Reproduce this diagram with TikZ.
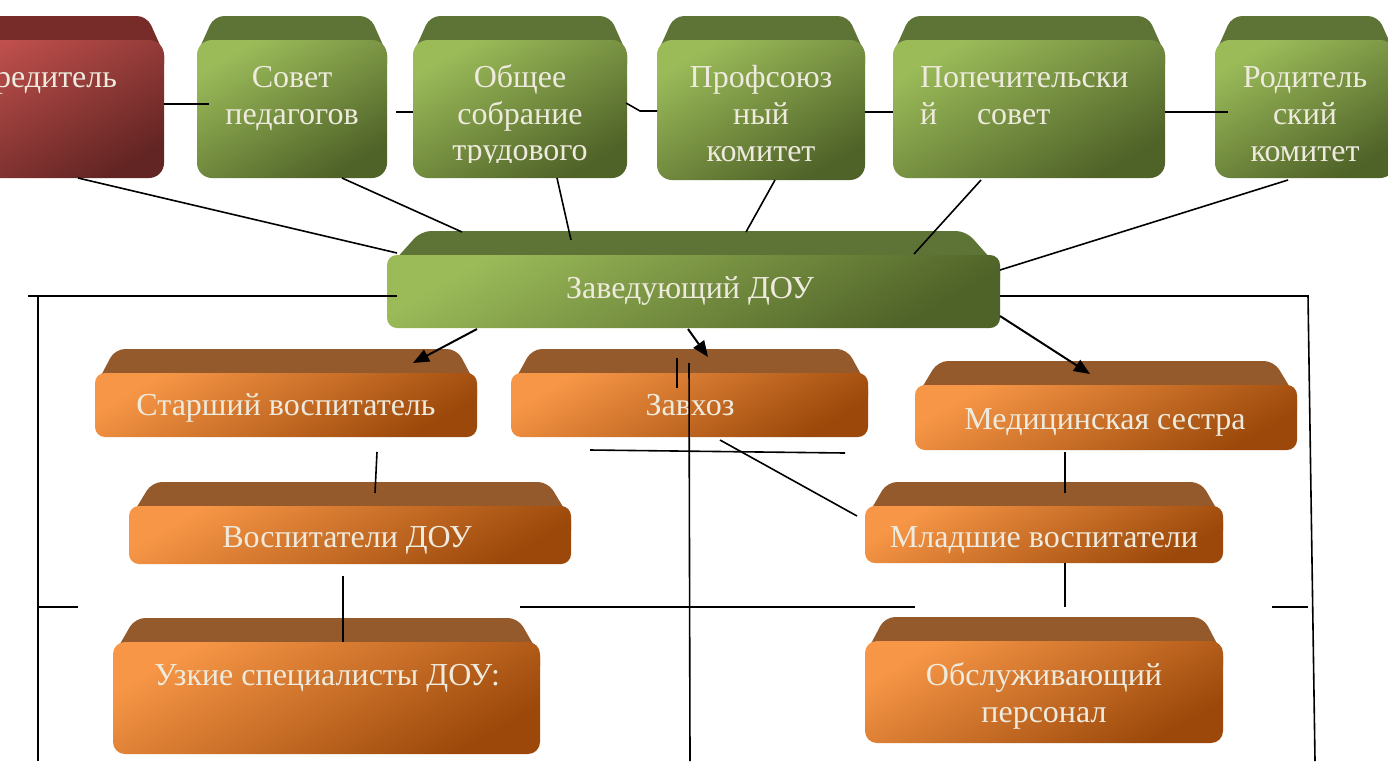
\documentclass[tikz,border=0pt]{standalone}
\usepackage{fontspec}
\setmainfont{Liberation Serif}
\usetikzlibrary{arrows.meta}
\definecolor{gl}{RGB}{155,187,89}
\definecolor{gd}{RGB}{79,98,40}
\definecolor{gb}{RGB}{94,115,54}
\definecolor{rl}{RGB}{192,80,77}
\definecolor{rd}{RGB}{99,37,35}
\definecolor{rb}{RGB}{119,44,42}
\definecolor{ol}{RGB}{247,150,70}
\definecolor{od}{RGB}{155,72,10}
\definecolor{ob}{RGB}{149,90,43}
\definecolor{txt}{RGB}{238,235,222}
% #1 name, #2 x1, #3 y1, #4 x2, #5 y2, #6 inset, #7 colour prefix, #8 radius
\newcommand{\dbox}[8]{%
  \fill[#7b, rounded corners=10pt] ({#2+#6},{#3-24}) -- ({#4-#6},{#3-24}) -- (#4,{#3+14}) -- (#4,{#3+25}) -- (#2,{#3+25}) -- (#2,{#3+14}) -- cycle;
  \node[frontbox, rounded corners=#8pt, top color=#7l, middle color=#7l!60!#7d, bottom color=#7d, shading angle=30,
        minimum width={#4-#2}, minimum height={#5-#3}] (#1) at ({(#2+#4)/2},{(#3+#5)/2}) {};
}
\begin{document}
\begin{tikzpicture}[x=1pt,y=-1pt,
  frontbox/.style={inner sep=0pt, outer sep=0pt},
  lbl/.style={inner sep=0pt, outer sep=0pt, text=txt, font=\fontsize{32}{36}\selectfont, anchor=base},
  ln/.style={line width=1.6pt, black},
  arr/.style={line width=2pt, black, -{Triangle[length=16pt,width=13pt]}}]
\useasboundingbox (0,0) rectangle (1388,761);
\fill[white] (0,0) rectangle (1388,761);
\clip (0,0) rectangle (1388,761);

% ---- top row ----
\dbox{ucr}{-60}{40}{164}{178}{17}{r}{15}
\dbox{sov}{197}{40}{387}{178}{17}{g}{15}
\dbox{obs}{413}{40}{627}{178}{17}{g}{15}
\dbox{prof}{657}{40}{865}{180}{17}{g}{15}
\dbox{pop}{893}{40}{1165}{178}{17}{g}{15}
\dbox{rod}{1215}{40}{1395}{178}{17}{g}{15}
% ---- head ----
\dbox{zav}{387}{255}{1000}{328}{34}{g}{10}
% ---- lower ----
\dbox{star}{95}{373}{477}{437}{20}{o}{10}
\dbox{zavh}{511}{373}{868}{437}{21}{o}{10}
\dbox{med}{915}{385}{1297}{450}{23}{o}{10}
\dbox{vosp}{129}{506}{571}{564}{23}{o}{10}
\dbox{mlad}{865}{506}{1223}{563}{22}{o}{10}
\dbox{uzk}{113}{642}{540}{754}{22}{o}{12}
\dbox{obsl}{865}{641}{1223}{743}{20}{o}{12}

% ---- texts ----
\node[lbl, anchor=base east] (tucr) at (117,87) {Учредитель};
\node[lbl] (tsov1) at (292,87) {Совет};
\node[lbl] (tsov2) at (292,124) {педагогов};
\node[lbl] (tobs1) at (520,87) {Общее};
\node[lbl] (tobs2) at (520,124) {собрание};
\begin{scope}
  \clip (413,40) rectangle (627,162);
  \node[lbl] (tobs3) at (520,160) {трудового};
\end{scope}
\node[lbl] (tprof1) at (761,87) {Профсоюз};
\node[lbl] (tprof2) at (761,124) {ный};
\node[lbl] (tprof3) at (761,161) {комитет};
\node[lbl, anchor=base west] (tpop1) at (920,87) {Попечительски};
\node[lbl, anchor=base west] (tpop2) at (920,124) {й};
\node[lbl, anchor=base west] (tpop3) at (977,124) {совет};
\node[lbl] (trod1) at (1305,87) {Родитель};
\node[lbl] (trod2) at (1305,124) {ский};
\node[lbl] (trod3) at (1305,161) {комитет};
\node[lbl] (tzav) at (690,298) {Заведующий ДОУ};
\node[lbl] (tstar) at (286,415) {Старший воспитатель};
\node[lbl] (tzavh) at (690,415) {Завхоз};
\node[lbl] (tmed) at (1105,429) {Медицинская сестра};
\node[lbl] (tvosp) at (347,547) {Воспитатели ДОУ};
\node[lbl] (tmlad) at (1044,547) {Младшие воспитатели};
\node[lbl] (tuzk) at (327,685) {Узкие специалисты ДОУ:};
\node[lbl] (tobsl1) at (1044,685) {Обслуживающий};
\node[lbl] (tobsl2) at (1044,722) {персонал};

% ---- connector end points ----
\coordinate (h1a) at (164,104); \coordinate (h1b) at (209,104);
\coordinate (h2a) at (396,112); \coordinate (h2b) at (413,112);
\coordinate (h3a) at (626,103); \coordinate (h3m) at (640,111); \coordinate (h3b) at (657,111);
\coordinate (h4a) at (865,112); \coordinate (h4b) at (893,112);
\coordinate (h5a) at (1165,112); \coordinate (h5b) at (1228,112);
\coordinate (d1a) at (78,178);   \coordinate (d1b) at (397,253);
\coordinate (d2a) at (342,178);  \coordinate (d2b) at (462,232);
\coordinate (d3a) at (557,178);  \coordinate (d3b) at (571,240);
\coordinate (d4a) at (775,180);  \coordinate (d4b) at (746,232);
\coordinate (d5a) at (981,180);  \coordinate (d5b) at (914,254);
\coordinate (d6a) at (1288,180); \coordinate (d6b) at (1000,270);
\coordinate (la) at (28,296);  \coordinate (lb) at (397,296);
\coordinate (lt) at (38,296);  \coordinate (lbot) at (38,761);
\coordinate (ra) at (1000,296); \coordinate (rc) at (1308,296); \coordinate (rbot) at (1315,761);
\coordinate (s1a) at (38,607);  \coordinate (s1b) at (78,607);
\coordinate (s2a) at (520,607); \coordinate (s2b) at (915,607);
\coordinate (s3a) at (1272,607); \coordinate (s3b) at (1308,607);
\coordinate (a1a) at (477,329); \coordinate (a1b) at (413,363);
\coordinate (a2a) at (688,329); \coordinate (a2b) at (708,357);
\coordinate (a3a) at (1000,316); \coordinate (a3b) at (1090,374);
\coordinate (cva) at (689,363); \coordinate (cvb) at (690,761);
\coordinate (cwa) at (677,358); \coordinate (cwb) at (677,388);
\coordinate (hxa) at (590,450); \coordinate (hxb) at (845,453);
\coordinate (dxa) at (720,440); \coordinate (dxb) at (857,516);
\coordinate (v1a) at (377,452); \coordinate (v1b) at (375,493);
\coordinate (v2a) at (343,576); \coordinate (v2b) at (343,642);
\coordinate (v3a) at (1065,452); \coordinate (v3b) at (1065,493);
\coordinate (v4a) at (1065,563); \coordinate (v4b) at (1065,607);

% ---- connectors ----
\draw[ln] (h1a) -- (h1b);
\draw[ln] (h2a) -- (h2b);
\draw[ln] (h3a) -- (h3m) -- (h3b);
\draw[ln] (h4a) -- (h4b);
\draw[ln] (h5a) -- (h5b);
\draw[ln] (d1a) -- (d1b);
\draw[ln] (d2a) -- (d2b);
\draw[ln] (d3a) -- (d3b);
\draw[ln] (d4a) -- (d4b);
\draw[ln] (d5a) -- (d5b);
\draw[ln] (d6a) -- (d6b);
\draw[ln] (la) -- (lb);
\draw[ln] (lt) -- (lbot);
\draw[ln] (ra) -- (rc) -- (rbot);
\draw[ln] (s1a) -- (s1b);
\draw[ln] (s2a) -- (s2b);
\draw[ln] (s3a) -- (s3b);
\draw[arr] (a1a) -- (a1b);
\draw[arr] (a2a) -- (a2b);
\draw[arr] (a3a) -- (a3b);
\draw[ln] (cva) -- (cvb);
\draw[ln] (cwa) -- (cwb);
\draw[ln] (hxa) -- (hxb);
\draw[ln] (dxa) -- (dxb);
\draw[ln] (v1a) -- (v1b);
\draw[ln] (v2a) -- (v2b);
\draw[ln] (v3a) -- (v3b);
\draw[ln] (v4a) -- (v4b);
\end{tikzpicture}
\end{document}
